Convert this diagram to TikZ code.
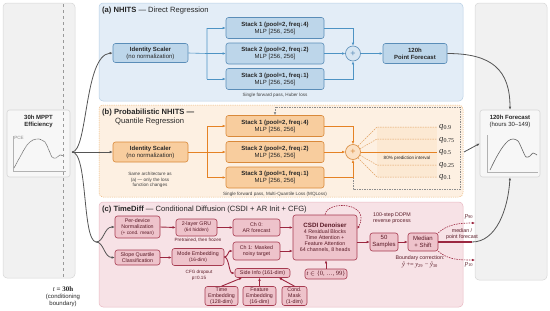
\documentclass[tikz,border=0pt]{standalone}
\usepackage{fontspec}
\setmainfont{Liberation Sans}
\newfontfamily\serif{Liberation Serif}
\usetikzlibrary{arrows.meta}

\definecolor{panelgray}{HTML}{F1F1F1}
\definecolor{edgegray}{HTML}{D6D6D6}
\definecolor{conngray}{HTML}{555555}
\definecolor{bluebg}{HTML}{E3EDF7}
\definecolor{blueedge}{HTML}{B8CFE4}
\definecolor{bluenode}{HTML}{BDD6EA}
\definecolor{bluedraw}{HTML}{5A8DB8}
\definecolor{bluearrow}{HTML}{4D93C4}
\definecolor{orangebg}{HTML}{FDF0E2}
\definecolor{orangeedge}{HTML}{EBB57A}
\definecolor{orangenode}{HTML}{F8CD9E}
\definecolor{orangedraw}{HTML}{D9893A}
\definecolor{orangearrow}{HTML}{E58224}
\definecolor{pinkbg}{HTML}{F7E2E6}
\definecolor{pinkedge}{HTML}{E9B9C3}
\definecolor{rednode}{HTML}{EEC3CB}
\definecolor{reddraw}{HTML}{A63A50}
\definecolor{redarrow}{HTML}{9C2740}
\definecolor{redtext}{HTML}{5A1A26}

\newcommand{\qlab}[1]{{\serif\itshape q}\textsubscript{\serif #1}}

\begin{document}
\begin{tikzpicture}[x=1pt, y=-1pt,
    every node/.style={inner sep=0pt, text=black!85},
    ft/.style={font=\fontsize{7.6}{8.6}\selectfont},
    fq/.style={font=\fontsize{8.6}{9}\selectfont},
    fa/.style={font=\fontsize{6}{6.9}\selectfont},
    fs/.style={font=\fontsize{5.3}{6}\selectfont},
    fn/.style={font=\fontsize{4.6}{5.4}\selectfont},
    panel/.style={rounded corners=4pt, line width=0.5pt},
    box/.style={rounded corners=2.5pt, align=center, line width=0.6pt},
    bbox/.style={box, fa, draw=bluedraw, fill=bluenode},
    obox/.style={box, fa, draw=orangedraw, fill=orangenode},
    rbox/.style={box, fs, draw=reddraw, fill=rednode, text=redtext},
    sumnode/.style={circle, line width=0.6pt, minimum size=15, font=\fontsize{9}{9}\selectfont},
    tip/.style={-{Latex[length=3pt,width=2.6pt]}},
    barr/.style={tip, draw=bluearrow, line width=0.6pt},
    oarr/.style={tip, draw=orangearrow, line width=0.7pt},
    rarr/.style={tip, draw=redarrow, line width=0.9pt},
    conn/.style={tip, draw=conngray, line width=0.8pt},
    note/.style={fn, align=center, text=black!75}
]
\useasboundingbox (0,0) rectangle (550,311);

% Seitenfelder
\draw[panel, fill=panelgray, draw=edgegray] (3,3) rectangle (75,278);
\draw[panel, fill=panelgray, draw=edgegray] (475,3) rectangle (547,280);

% Modellfelder
\draw[panel, fill=bluebg, draw=blueedge] (99,3) rectangle (463,101);
\draw[panel, fill=orangebg, draw=orangeedge, dash pattern=on 1.2pt off 1pt] (99,105) rectangle (463,197);
\draw[panel, fill=pinkbg, draw=pinkedge] (99,202) rectangle (463,307);

% Eingang (30h)
\node[box, draw=edgegray, fill=panelgray!60!white, minimum width=63, minimum height=67] (pvin) at (38.5,143.5) {};
\node[fa, align=center] (pvtitle) at (38.5,121.5) {\textbf{30h MPPT}\\\textbf{Efficiency}};
\draw[black!30, line width=0.4pt] (13,136) -- (13,171) -- (66,171);
\node[fn, text=black!45] (pce) at (19,138) {PCE};
\draw[black!60, line width=0.6pt, dash pattern=on 0.8pt off 0.5pt] plot[smooth] coordinates
  {(14,168) (20,157) (27,145) (33,140) (39,139) (45,142) (48,148) (52,157) (56,158) (60,155) (64,156)};
\draw[black!40, dashed, line width=0.4pt] (63,4) -- (63,277);
\node[fa, align=center] (tcond) at (63,296.5) {{\fontsize{7}{7}\serif\itshape t}{\fontsize{7}{7}\serif\bfseries\ =\ 30h}\\(conditioning\\boundary)};

% Ausgang (120h)
\node[box, draw=edgegray, fill=panelgray!60!white, minimum width=60, minimum height=67] (fcst) at (510,143.5) {};
\node[fa, align=center] (fctitle) at (510,121.5) {\textbf{120h Forecast}\\(hours 30--149)};
\draw[black!30, line width=0.4pt] (487,135) -- (487,172) -- (538,172);
\draw[black!60, line width=0.6pt] plot[smooth] coordinates
  {(490,170) (496,158) (502,148) (508,141) (513,139) (518,141) (522,149) (526,157) (530,156) (533,153) (537,155)};

% (a) NHITS
\node[ft, anchor=west] (titleA) at (102,11) {\textbf{(a) NHITS} --- Direct Regression};
\node[bbox, minimum width=75, minimum height=19] (scalerA) at (150.5,53) {\textbf{Identity Scaler}\\(no normalization)};
\node[bbox, minimum width=98, minimum height=21] (stA1) at (275,28) {\textbf{Stack 1 (pool=2, freq↓4)}\\MLP [256, 256]};
\node[bbox, minimum width=98, minimum height=21] (stA2) at (275,53.5) {\textbf{Stack 2 (pool=2, freq↓2)}\\MLP [256, 256]};
\node[bbox, minimum width=98, minimum height=21] (stA3) at (275,79) {\textbf{Stack 3 (pool=1, freq↓1)}\\MLP [256, 256]};
\node[sumnode, draw=bluedraw, fill=bluenode!60, text=bluedraw] (sumA) at (353,53.5) {+};
\node[bbox, minimum width=64, minimum height=20] (pointA) at (415,53.5) {\textbf{120h}\\\textbf{Point Forecast}};
\node[note] (lossA) at (275,95) {Single forward pass, Huber loss};
\coordinate (brA) at (207,53.5);
\draw[draw=bluearrow, line width=0.6pt] (scalerA.east) -- (brA) (brA|-stA1) -- (brA|-stA3);
\foreach \s in {stA1,stA2,stA3} \draw[barr] (brA|-\s) -- (\s.west);
\draw[barr] (stA1.east) -| (sumA.north);
\draw[barr] (stA2.east) -- (sumA.west);
\draw[barr] (stA3.east) -| (sumA.south);
\draw[barr] (sumA.east) -- (pointA.west);

% (b) Probabilistic NHITS
\node[ft, anchor=west] (titleB) at (102,113) {\textbf{(b) Probabilistic NHITS ---}};
\node[ft, anchor=west] (subB) at (115,122) {Quantile Regression};
\node[obox, minimum width=75, minimum height=20] (scalerB) at (150.5,152) {\textbf{Identity Scaler}\\(no normalization)};
\node[note] (sameB) at (150,180) {Same architecture as\\(a) --- only the loss\\function changes};
\node[obox, minimum width=98, minimum height=21] (stB1) at (275,126) {\textbf{Stack 1 (pool=2, freq↓4)}\\MLP [256, 256]};
\node[obox, minimum width=98, minimum height=21] (stB2) at (275,152) {\textbf{Stack 2 (pool=2, freq↓2)}\\MLP [256, 256]};
\node[obox, minimum width=98, minimum height=21] (stB3) at (275,177.5) {\textbf{Stack 3 (pool=1, freq↓1)}\\MLP [256, 256]};
\node[sumnode, draw=orangedraw, fill=orangenode!60, text=orangedraw] (sumB) at (353,152) {+};
\node[note] (lossB) at (275,194) {Single forward pass, Multi-Quantile Loss (MQLoss)};
\coordinate (brB) at (207,152);
\draw[draw=orangearrow, line width=0.7pt] (scalerB.east) -- (brB) (brB|-stB1) -- (brB|-stB3);
\foreach \s in {stB1,stB2,stB3} \draw[oarr] (brB|-\s) -- (\s.west);
\draw[oarr] (stB1.east) -| (sumB.north);
\draw[oarr] (stB2.east) -- (sumB.west);
\draw[oarr] (stB3.east) -| (sumB.south);
% Rueckfuehrung (gestrichelt)
\draw[tip, black!45, line width=0.5pt, dash pattern=on 1.5pt off 1pt] (sumB|-stB3) -- (353,189) -- (460,189) -- (460,107) -- (275,107) -- (stB1.north);

% Quantile
\fill[orangenode!45] (377,127) rectangle (437,177);
\fill[orangenode!45] (377,139) rectangle (437,165);
\node[fq, anchor=west] (q9) at (439,127) {\qlab{0.9}};
\node[fq, anchor=west] (q75) at (439,140) {\qlab{0.75}};
\node[fq, anchor=west] (q5) at (439,152) {\qlab{0.5}};
\node[fq, anchor=west] (q25) at (439,165) {\qlab{0.25}};
\node[fq, anchor=west] (q1) at (439,177) {\qlab{0.1}};
\node[fn] (pi80) at (407,158) {80\% prediction interval};
\draw[orangearrow, line width=1pt] (sumB.east) -- (437,152);
\foreach \a/\yy in {50/127, 25/139, -25/165, -50/177}
  \draw[orangedraw!80, line width=0.5pt, dash pattern=on 1.5pt off 1pt] (sumB.\a) -- (377,\yy) -- (437,\yy);

% (c) TimeDiff
\node[ft, anchor=west] (titleC) at (102,210) {\textbf{(c) TimeDiff} --- Conditional Diffusion (CSDI + AR Init + CFG)};
\node[rbox, minimum width=45, minimum height=22] (normC) at (137.5,227) {Per-device\\Normalization\\{\fontsize{4.8}{5.5}\selectfont(+ cond. mean)}};
\node[rbox, minimum width=45, minimum height=15] (slopeC) at (137.5,257.5) {Slope Quartile\\Classification};
\node[rbox, minimum width=41, minimum height=17] (gruC) at (196.5,227.5) {2-layer GRU\\{\fontsize{4.8}{5.5}\selectfont(64 hidden)}};
\node[note, text=redtext] (frozC) at (198,240) {Pretrained, then frozen};
\node[rbox, minimum width=52, minimum height=17] (modeC) at (198,257) {Mode Embedding\\{\fontsize{4.8}{5.5}\selectfont(16-dim)}};
\node[note, text=redtext] (cfgC) at (199,275.5) {CFG dropout\\p=0.15};
\node[rbox, minimum width=47, minimum height=17] (ch0C) at (256.5,227.5) {Ch 0:\\AR forecast};
\node[rbox, minimum width=47, minimum height=18] (ch1C) at (256.5,251) {Ch 1: Masked\\noisy target};
\node[rbox, minimum width=55, minimum height=9] (sideC) at (262.5,273) {Side Info (161-dim)};
\node[rbox, minimum width=33, minimum height=19] (timeC) at (221.5,296) {Time\\Embedding\\(128-dim)};
\node[rbox, minimum width=33, minimum height=19] (featC) at (259.5,296) {Feature\\Embedding\\(16-dim)};
\node[rbox, minimum width=25, minimum height=19] (maskC) at (294.5,296) {Cond.\\Mask\\(1-dim)};
\node[rbox, minimum width=64, minimum height=45] (csdiC) at (325,237.5) {{\fontsize{6.2}{7}\selectfont\textbf{CSDI Denoiser}}\\4 Residual Blocks\\Time Attention +\\Feature Attention\\64 channels, 8 heads};
\node[rbox, minimum width=42, minimum height=10, font=\fontsize{6.4}{6.8}\selectfont] (stepC) at (326,274) {{\serif\itshape t} $\in$ {\serif\{0, \dots, 99\}}};
\node[note, text=redtext, fs] (ddpmC) at (392,218.5) {100-step DDPM\\reverse process};
\node[rbox, minimum width=28, minimum height=18, font=\fontsize{6}{7}\selectfont] (sampC) at (384,242) {50\\Samples};
\node[rbox, minimum width=30, minimum height=18, font=\fontsize{6}{7}\selectfont] (medC) at (423,242) {Median\\+ Shift};
\node[note, text=redtext, fs] (bcC) at (420,258) {Boundary correction:};
\node[text=redtext, font=\fontsize{6.4}{6.8}\serif] (bcfC) at (420,265) {\textit{ŷ} += \textit{y}\textsubscript{29} − \textit{ŷ}\textsubscript{30}};
\node[text=redtext, font=\fontsize{6.4}{6.8}\serif] (p90) at (469,217) {\textit{p}\textsubscript{90}};
\node[text=redtext, font=\fontsize{6.4}{6.8}\serif] (p10) at (469,265) {\textit{p}\textsubscript{10}};
\node[note, text=redtext, fs] (medlab) at (462,234.5) {median /\\point forecast};

\coordinate (spC) at (96,242);
\draw[rarr] (normC.east) -- (gruC.west);
\draw[rarr] (gruC.east) -- (ch0C.west);
\draw[rarr] (ch0C.east) -- (ch0C.east-|csdiC.west);
\draw[rarr] (ch1C.east) -- (ch1C.east-|csdiC.west);
\draw[rarr] (slopeC.east) -- (slopeC.east-|modeC.west);
\draw[rarr] (modeC.east) .. controls (228,257) and (228,251) .. (ch1C.west);
\draw[rarr] (modeC.east) .. controls (229,257) and (229,273) .. (sideC.west);
\draw[rarr] (timeC.north) -- (sideC.south-|242,0);
\draw[rarr] (featC.north) -- (featC.north|-sideC.south);
\draw[rarr] (maskC.north) -- (sideC.south-|279,0);
\draw[rarr] (stepC.north) -- (stepC.north|-csdiC.south);
\draw[tip, draw=redarrow, line width=0.6pt, dash pattern=on 1.5pt off 1pt] (csdiC.north) .. controls (327,200) and (372,202) .. (csdiC.north east|-0,229);
\draw[rarr] (csdiC.east|-sampC) -- (sampC.west);
\draw[rarr] (sampC.east) -- (medC.west);
\coordinate (medout) at (472,242);
\draw[redarrow, line width=1.3pt] (medC.east) -- (medout);
\draw[tip, draw=redarrow, line width=0.6pt, dash pattern=on 1.5pt off 1pt] (medC.north east) .. controls (448,224) and (460,223) .. (475,223);
\draw[tip, draw=redarrow, line width=0.6pt, dash pattern=on 1.5pt off 1pt] (medC.south east) .. controls (448,260) and (460,260) .. (475,260);

% Verbindungen zwischen den Feldern
\coordinate (src) at (72,152);
\draw[conn] (src) .. controls (88,152) and (84,55) .. (scalerA.west);
\draw[conn] (src) -- (scalerB.west);
\draw[draw=conngray, line width=0.8pt] (src) .. controls (88,152) and (82,240) .. (spC);
\draw[conn] (spC) .. controls (104,242) and (104,227) .. (normC.west);
\draw[conn] (spC) .. controls (104,242) and (104,257.5) .. (slopeC.west);
\draw[conn] (pointA.east) .. controls (492,53.5) and (510,70) .. (fcst.north);
\coordinate (qout) at (464,152);
\draw[conn] (qout) -- (fcst.west);
\draw[conn] (medout) .. controls (496,242) and (508,210) .. (fcst.south);
\end{tikzpicture}
\end{document}
